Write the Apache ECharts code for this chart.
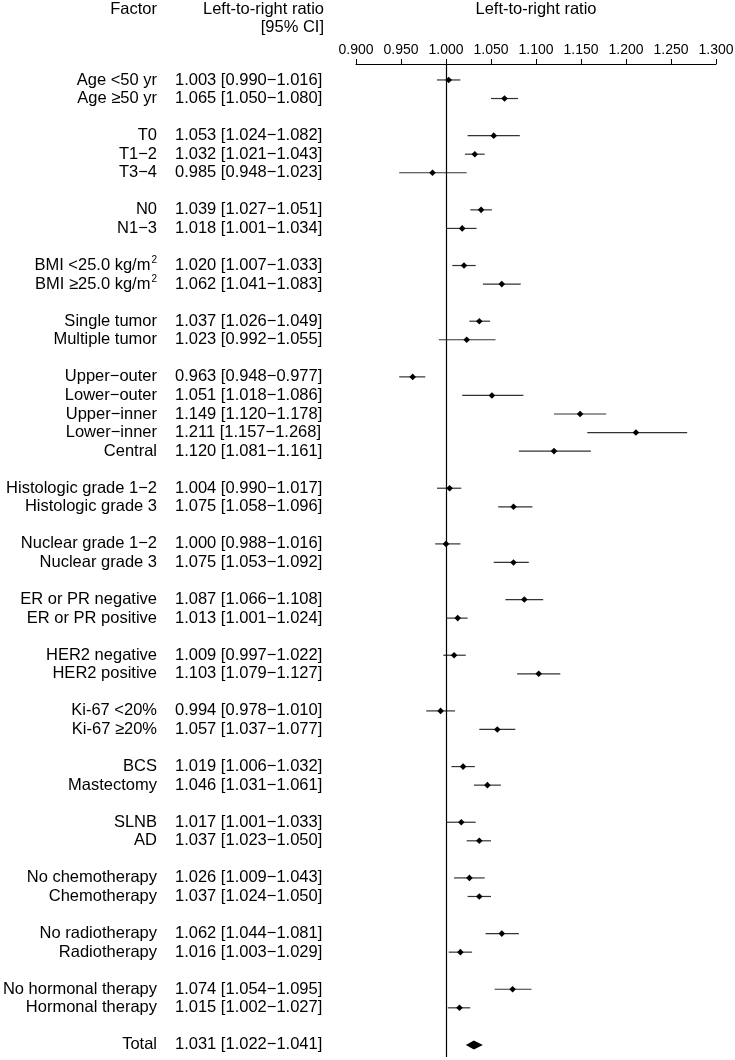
<!DOCTYPE html>
<html lang="en">
<head>
    <meta charset="UTF-8">
    <title>left-to-right ratio forest plot</title>
    <script src="https://cdn.jsdelivr.net/npm/echarts@6/dist/echarts.min.js"></script>
    <style>
        html, body { margin: 0; padding: 0; background: #fff; }
        #main { width: 735px; height: 1060px; }
    </style>
</head>
<body>
<div id="main"></div>
<script>
    // rows, '' = spacer row between groups
    const factors = [
        'Age <50 yr', 'Age \u226550 yr', '',
        'T0', 'T1\u22122', 'T3\u22124', '',
        'N0', 'N1\u22123', '',
        'BMI <25.0 kg/m{sup|2}', 'BMI \u226525.0 kg/m{sup|2}', '',
        'Single tumor', 'Multiple tumor', '',
        'Upper\u2212outer', 'Lower\u2212outer', 'Upper\u2212inner', 'Lower\u2212inner', 'Central', '',
        'Histologic grade 1\u22122', 'Histologic grade 3', '',
        'Nuclear grade 1\u22122', 'Nuclear grade 3', '',
        'ER or PR negative', 'ER or PR positive', '',
        'HER2 negative', 'HER2 positive', '',
        'Ki-67 <20%', 'Ki-67 \u226520%', '',
        'BCS', 'Mastectomy', '',
        'SLNB', 'AD', '',
        'No chemotherapy', 'Chemotherapy', '',
        'No radiotherapy', 'Radiotherapy', '',
        'No hormonal therapy', 'Hormonal therapy', '',
        'Total'
    ];
    const ratio = [
        1.003, 1.065, null,
        1.053, 1.032, 0.985, null,
        1.039, 1.018, null,
        1.020, 1.062, null,
        1.037, 1.023, null,
        0.963, 1.051, 1.149, 1.211, 1.120, null,
        1.004, 1.075, null,
        1.000, 1.075, null,
        1.087, 1.013, null,
        1.009, 1.103, null,
        0.994, 1.057, null,
        1.019, 1.046, null,
        1.017, 1.037, null,
        1.026, 1.037, null,
        1.062, 1.016, null,
        1.074, 1.015, null,
        1.031
    ];
    const ciLow = [
        0.990, 1.050, null,
        1.024, 1.021, 0.948, null,
        1.027, 1.001, null,
        1.007, 1.041, null,
        1.026, 0.992, null,
        0.948, 1.018, 1.120, 1.157, 1.081, null,
        0.990, 1.058, null,
        0.988, 1.053, null,
        1.066, 1.001, null,
        0.997, 1.079, null,
        0.978, 1.037, null,
        1.006, 1.031, null,
        1.001, 1.023, null,
        1.009, 1.024, null,
        1.044, 1.003, null,
        1.054, 1.002, null,
        1.022
    ];
    const ciHigh = [
        1.016, 1.080, null,
        1.082, 1.043, 1.023, null,
        1.051, 1.034, null,
        1.033, 1.083, null,
        1.049, 1.055, null,
        0.977, 1.086, 1.178, 1.268, 1.161, null,
        1.017, 1.096, null,
        1.016, 1.092, null,
        1.108, 1.024, null,
        1.022, 1.127, null,
        1.010, 1.077, null,
        1.032, 1.061, null,
        1.033, 1.050, null,
        1.043, 1.050, null,
        1.081, 1.029, null,
        1.095, 1.027, null,
        1.041
    ];
    const xTicks = [0.9, 1.3, 0.05];   // min, max, step

    const FONT = '"Liberation Sans", Arial, sans-serif';
    const FS = 16.5;
    const LABEL_RIGHT = 157;   // right edge of factor column
    const RATIO_LEFT = 175;    // left edge of ratio column
    const totalIdx = factors.length - 1;

    const rows = [];
    factors.forEach(function (f, i) {
        if (f !== '') rows.push([ratio[i], ciLow[i], ciHigh[i], i]);
    });

    function renderRow(params, api) {
        const i = api.value(3);
        const pE = api.coord([api.value(0), i]);
        const pL = api.coord([api.value(1), i]);
        const pH = api.coord([api.value(2), i]);
        const y = pE[1];
        const txt = ratio[i].toFixed(3) + ' [' + ciLow[i].toFixed(3) + '\u2212' + ciHigh[i].toFixed(3) + ']';
        const children = [
            {
                type: 'text', x: LABEL_RIGHT, y: y,
                style: {
                    text: factors[i], fill: '#000', fontSize: FS, fontFamily: FONT,
                    align: 'right', verticalAlign: 'middle',
                    rich: {sup: {fontSize: 10, fontFamily: FONT, fill: '#000', padding: [0, 0, 10, 1]}}
                }
            },
            {
                type: 'text', x: RATIO_LEFT, y: y,
                style: {text: txt, fill: '#000', fontSize: FS, fontFamily: FONT, align: 'left', verticalAlign: 'middle'}
            }
        ];
        if (i === totalIdx) {
            children.push({
                type: 'polygon',
                shape: {points: [[pL[0], y], [pE[0], y - 4.5], [pH[0], y], [pE[0], y + 4.5]]},
                style: {fill: '#000'}
            });
        } else {
            children.push({
                type: 'line',
                shape: {x1: pL[0], y1: y, x2: pH[0], y2: y},
                style: {stroke: '#333', lineWidth: 1.2}
            });
            children.push({
                type: 'polygon',
                shape: {points: [[pE[0] - 3.3, y], [pE[0], y - 3.3], [pE[0] + 3.3, y], [pE[0], y + 3.3]]},
                style: {fill: '#000'}
            });
        }
        return {type: 'group', children: children};
    }

    var myChart = echarts.init(document.getElementById('main'), null, {renderer: 'canvas'});

    var option = {
        animation: false,
        backgroundColor: '#fff',
        textStyle: {fontFamily: FONT},
        grid: {left: 356, right: 19, top: 64, bottom: 3, outerBoundsMode: 'none', containLabel: false},
        graphic: [
            {type: 'text', x: LABEL_RIGHT, y: 9, style: {text: 'Factor', fill: '#000', fontSize: FS, fontFamily: FONT, align: 'right', verticalAlign: 'middle'}},
            {type: 'text', x: 324, y: 9, style: {text: 'Left-to-right ratio', fill: '#000', fontSize: FS, fontFamily: FONT, align: 'right', verticalAlign: 'middle'}},
            {type: 'text', x: 324, y: 27, style: {text: '[95% CI]', fill: '#000', fontSize: FS, fontFamily: FONT, align: 'right', verticalAlign: 'middle'}},
            {type: 'text', x: 536, y: 9, style: {text: 'Left-to-right ratio', fill: '#000', fontSize: FS, fontFamily: FONT, align: 'center', verticalAlign: 'middle'}}
        ],
        xAxis: {
            type: 'value',
            position: 'top',
            min: xTicks[0],
            max: xTicks[1],
            interval: xTicks[2],
            axisLine: {show: true, onZero: false, lineStyle: {color: '#000', width: 1}},
            axisTick: {show: true, length: 5, lineStyle: {color: '#000'}},
            axisLabel: {fontSize: 14, color: '#000', fontFamily: FONT, margin: 7,
                formatter: function (v) { return v.toFixed(3); }},
            splitLine: {show: false}
        },
        yAxis: {
            type: 'value',
            inverse: true,
            min: -0.86,
            max: 52.65,
            show: false
        },
        series: [{
            type: 'custom',
            clip: false,
            renderItem: renderRow,
            encode: {x: [0, 1, 2], y: 3},
            data: rows,
            markLine: {
                silent: true,
                symbol: 'none',
                label: {show: false},
                lineStyle: {color: '#000', width: 1.2, type: 'solid'},
                data: [{xAxis: 1.0}]
            },
            z: 3
        }]
    };

    myChart.setOption(option);
</script>
</body>
</html>
